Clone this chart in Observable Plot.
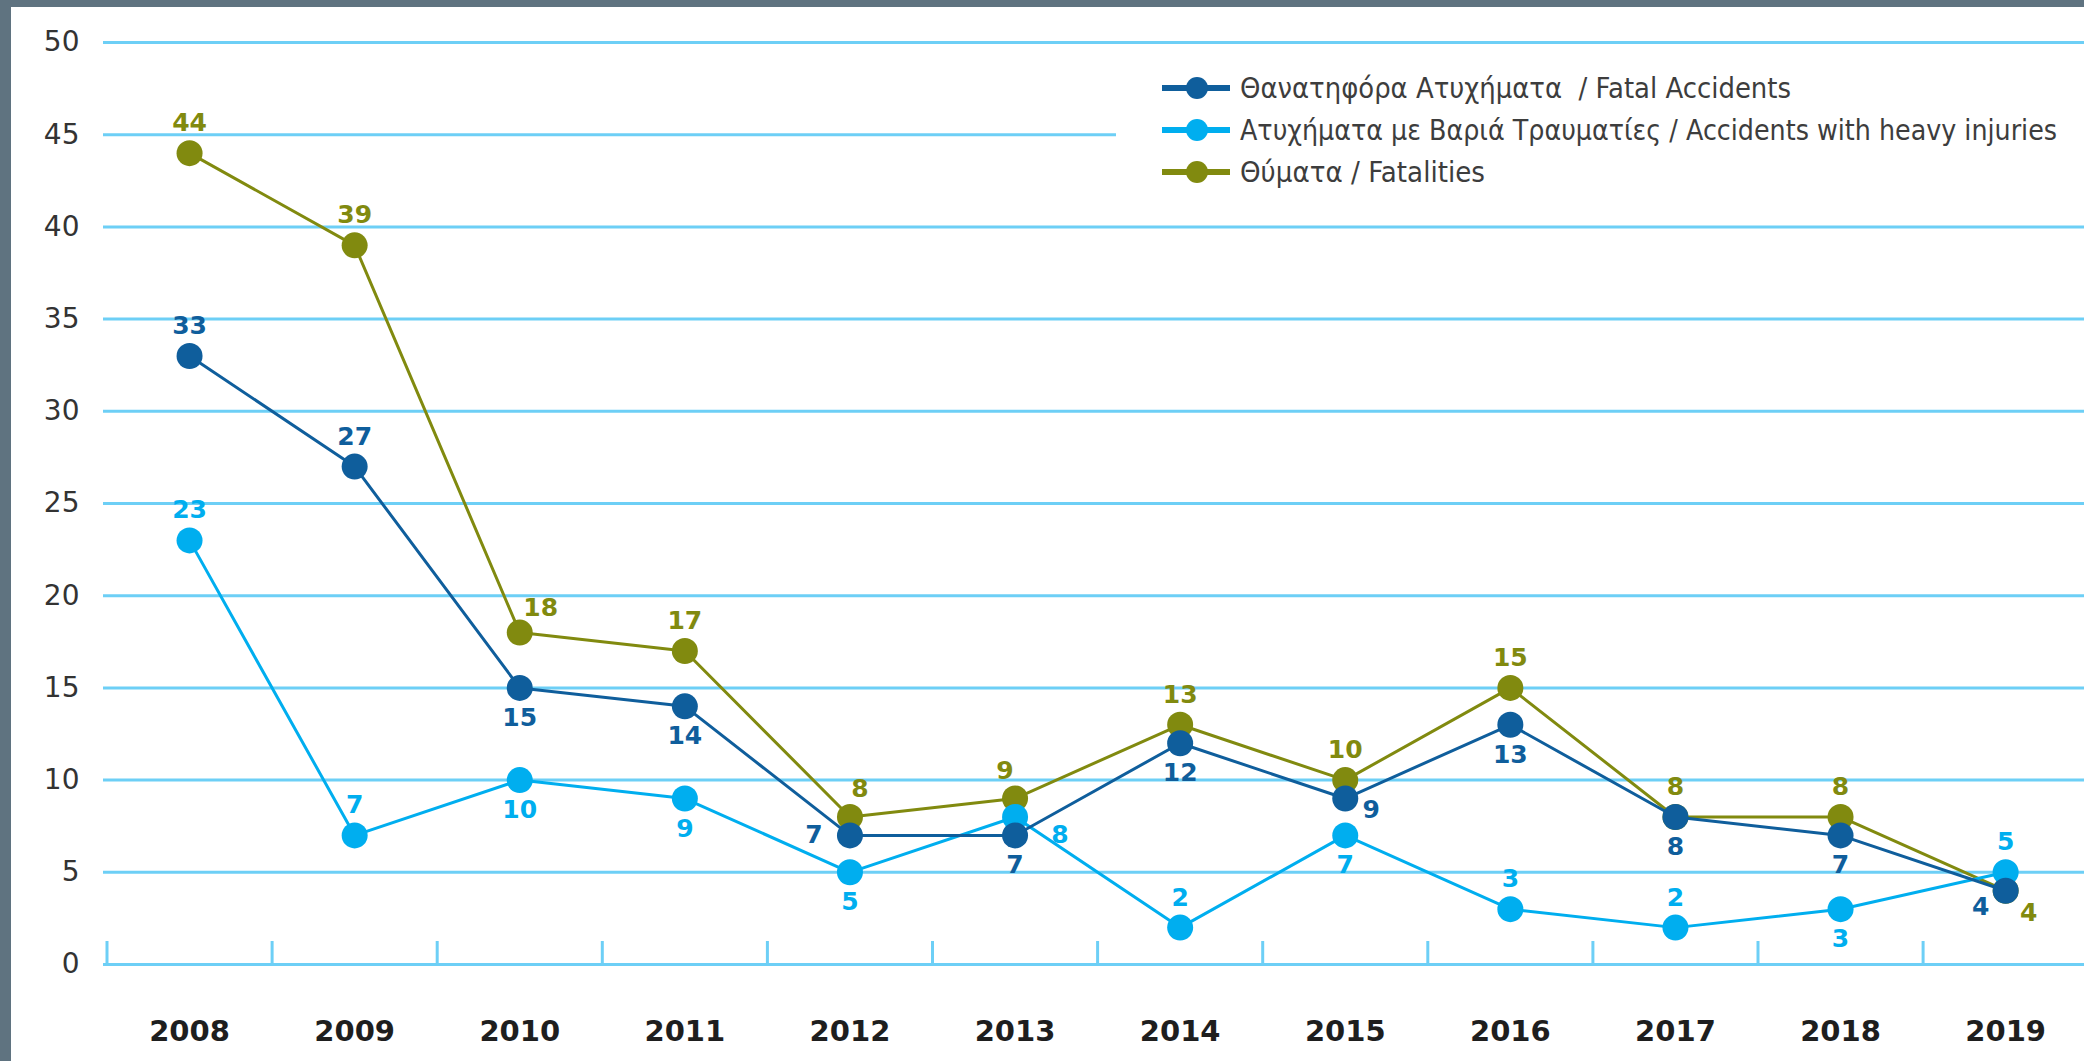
<!DOCTYPE html>
<html>
<head>
<meta charset="utf-8">
<script src="https://cdn.jsdelivr.net/npm/d3@7"></script>
<script src="https://cdn.jsdelivr.net/npm/@observablehq/plot@0.6"></script>
<style>
  html, body { margin: 0; padding: 0; background: #ffffff; overflow: hidden; }
  #wrap { position: relative; width: 2084px; height: 1061px; background: #ffffff; }
  #chart { position: absolute; left: 0; top: 0; }
  #legend { position: absolute; left: 1116px; top: 55px; width: 968px; height: 145px; background: #ffffff; }
  .bt { position: absolute; left: 0; top: 0; width: 2084px; height: 7px; background: #5f7380; }
  .bl { position: absolute; left: 0; top: 0; width: 11px; height: 1061px; background: #5f7380; }
</style>
</head>
<body>
<div id="wrap">
  <div id="chart"></div>
  <div id="legend"></div>
  <div class="bt"></div>
  <div class="bl"></div>
</div>
<script>
// ---- data ----
const years = [2008, 2009, 2010, 2011, 2012, 2013, 2014, 2015, 2016, 2017, 2018, 2019];
const fatalAccidents = [33, 27, 15, 14, 7, 7, 12, 9, 13, 8, 7, 4];
const heavyInjuryAccidents = [23, 7, 10, 9, 5, 8, 2, 7, 3, 2, 3, 5];
const fatalities = [44, 39, 18, 17, 8, 9, 13, 10, 15, 8, 8, 4];
const yTicks = [0, 5, 10, 15, 20, 25, 30, 35, 40, 45, 50];
const seriesNames = [
  "Θανατηφόρα Ατυχήματα  / Fatal Accidents",
  "Ατυχήματα με Βαριά Τραυματίες / Accidents with heavy injuries",
  "Θύματα / Fatalities"
];

// label placement codes (layout only)
const placeFatal   = ["t","t","b","b","l","b","b","br","b","b","b","bl"];
const placeHeavy   = ["t","t","b","b","b","r","t","b","t","t","b","t"];
const placeVictims = ["t","t","tr","t","tR","tL","t","t","t","t","t","br2"];

const offsets = {
  t: [0, -30], b: [0, 30], l: [-36, 0], r: [45, 18],
  br: [26, 11], bl: [-25, 16], br2: [23, 22], tr: [21, -25],
  tR: [10, -28], tL: [-10, -28]
};

const colors = ["#0f5e9c", "#00aeef", "#818a0f"];
const gridColor = "#6dcff6";

const series = [
  {name: seriesNames[0], values: fatalAccidents, place: placeFatal, color: colors[0]},
  {name: seriesNames[1], values: heavyInjuryAccidents, place: placeHeavy, color: colors[1]},
  {name: seriesNames[2], values: fatalities, place: placeVictims, color: colors[2]}
];
series.forEach(s => {
  s.rows = years.map((year, i) => ({year, value: s.values[i], place: s.place[i]}));
});

const tickEdges = years.map(y => y - 0.5).concat([years[years.length - 1] + 0.5]);

const drawOrder = [series[2], series[1], series[0]];

const marks = [
  Plot.ruleY(yTicks.filter(d => d > 0), {y: d => d, stroke: gridColor, strokeWidth: 3}),
  Plot.ruleY([0], {y: d => d, stroke: gridColor, strokeWidth: 3}),
  Plot.axisX(tickEdges, {tickSize: -23, stroke: gridColor, strokeWidth: 3, fill: "none", tickFormat: () => "", label: null}),
  Plot.text(yTicks, {y: d => d, text: d => String(d), frameAnchor: "left", dx: -24, textAnchor: "end", fontSize: 28, fill: "#333333"}),
  Plot.text(years, {x: d => d, text: d => String(d), frameAnchor: "bottom", dy: 76, fontSize: 29, fontWeight: "bold", fill: "#1e1e1e"})
];

for (const s of drawOrder) {
  marks.push(Plot.line(s.rows, {x: "year", y: "value", stroke: s.color, strokeWidth: 3}));
  marks.push(Plot.dot(s.rows, {x: "year", y: "value", r: 13, fill: s.color, stroke: "none"}));
}
for (const s of drawOrder) {
  for (const [code, [dx, dy]] of Object.entries(offsets)) {
    const subset = s.rows.filter(r => r.place === code);
    if (subset.length) {
      marks.push(Plot.text(subset, {x: "year", y: "value", text: d => String(d.value), dx, dy,
        fill: s.color, fontSize: 25, fontWeight: "bold"}));
    }
  }
}

const chart = Plot.plot({
  width: 2084,
  height: 1061,
  marginTop: 42,
  marginBottom: 97,
  marginLeft: 103,
  marginRight: 0,
  x: {domain: [2007.5, 2019.5], range: [106.5, 2087.7], axis: null},
  y: {domain: [0, 50], axis: null},
  style: {fontFamily: "DejaVu Sans", background: "transparent", overflow: "visible"},
  marks
});
document.getElementById("chart").appendChild(chart);

// ---- legend ----
const legendLengths = [551, 817, 245];
const ns = "http://www.w3.org/2000/svg";
const lsvg = document.createElementNS(ns, "svg");
lsvg.setAttribute("width", 968);
lsvg.setAttribute("height", 145);
series.forEach((s, i) => {
  const cy = 33 + i * 42;
  const line = document.createElementNS(ns, "line");
  line.setAttribute("x1", 46); line.setAttribute("x2", 114);
  line.setAttribute("y1", cy); line.setAttribute("y2", cy);
  line.setAttribute("stroke", s.color); line.setAttribute("stroke-width", 6);
  lsvg.appendChild(line);
  const c = document.createElementNS(ns, "circle");
  c.setAttribute("cx", 81); c.setAttribute("cy", cy); c.setAttribute("r", 11);
  c.setAttribute("fill", s.color);
  lsvg.appendChild(c);
  const t = document.createElementNS(ns, "text");
  t.setAttribute("x", 124); t.setAttribute("y", cy);
  t.setAttribute("dominant-baseline", "central");
  t.setAttribute("font-family", "DejaVu Sans");
  t.setAttribute("font-size", 28);
  t.setAttribute("fill", "#3d3d3d");
  t.setAttribute("textLength", legendLengths[i]);
  t.setAttribute("lengthAdjust", "spacingAndGlyphs");
  t.style.whiteSpace = "pre";
  t.textContent = s.name;
  lsvg.appendChild(t);
});
document.getElementById("legend").appendChild(lsvg);
</script>
</body>
</html>
